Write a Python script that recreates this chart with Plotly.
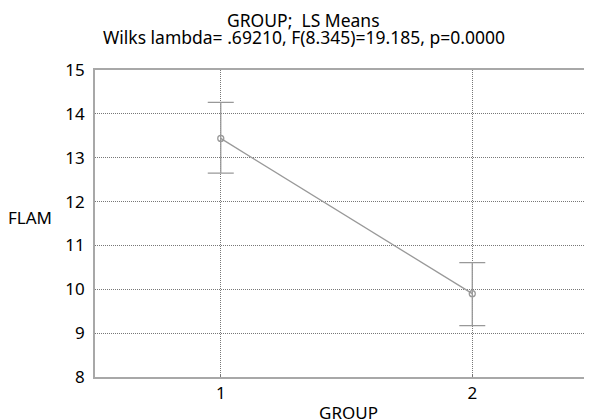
import plotly.graph_objects as go

groups = [1, 2]
ls_means = [13.44, 9.90]
upper = [14.26, 10.61]
lower = [12.65, 9.17]

title_line1 = "GROUP;  LS Means"
title_line2 = "Wilks lambda= .69210, F(8.345)=19.185, p=0.0000"
x_title = "GROUP"
y_title = "FLAM"

err_plus = [u - m for u, m in zip(upper, ls_means)]
err_minus = [m - l for m, l in zip(ls_means, lower)]

FONT = "Noto Sans"
GRAY = "#999999"

fig = go.Figure()
fig.add_trace(go.Scatter(
    x=groups, y=ls_means, mode="lines+markers",
    line=dict(color=GRAY, width=1.3),
    marker=dict(symbol="circle-open", size=6, color=GRAY, line=dict(width=1.3)),
    error_y=dict(type="data", symmetric=False, array=err_plus, arrayminus=err_minus,
                 color=GRAY, thickness=1.3, width=13),
    showlegend=False,
))

fig.update_layout(
    width=584, height=412, autosize=False,
    margin=dict(l=87, r=0, t=62, b=43),
    paper_bgcolor="white", plot_bgcolor="white",
    font=dict(family=FONT, size=15, color="black"),
    xaxis=dict(range=[0.5, 2.476], tickvals=groups, ticktext=[str(g) for g in groups],
               showgrid=True, gridcolor="#777777", griddash="1px,1px", gridwidth=1,
               showline=True, linecolor="#a8a8a8", linewidth=1.6, mirror=True,
               zeroline=False, ticks="inside", ticklen=3, tickcolor="#777777",
               tickfont=dict(size=17)),
    yaxis=dict(range=[8, 15], dtick=1, showgrid=True, gridcolor="#777777",
               griddash="1px,1px", gridwidth=1, showline=True, linecolor="#a8a8a8",
               linewidth=1.6, mirror=False, zeroline=False, ticks="",
               ticklabelstandoff=5, tickfont=dict(size=17)),
    annotations=[
        dict(text=y_title, xref="paper", yref="paper", x=-0.131, y=0.518,
             xanchor="center", yanchor="middle", showarrow=False,
             font=dict(family=FONT, size=17, color="black")),
        dict(text=x_title, xref="paper", yref="paper", x=0.511, y=0,
             xanchor="center", yanchor="top", yshift=-22, showarrow=False,
             font=dict(family=FONT, size=17, color="black")),
        dict(text=title_line1, xref="paper", yref="paper", x=0.42, y=1,
             xanchor="center", yanchor="middle", yshift=50, showarrow=False,
             font=dict(family=FONT, size=17.5, color="black")),
        dict(text=title_line2, xref="paper", yref="paper", x=0.42, y=1,
             xanchor="center", yanchor="middle", yshift=33, showarrow=False,
             font=dict(family=FONT, size=17.5, color="black")),
    ],
)

fig.write_html("out.html")
